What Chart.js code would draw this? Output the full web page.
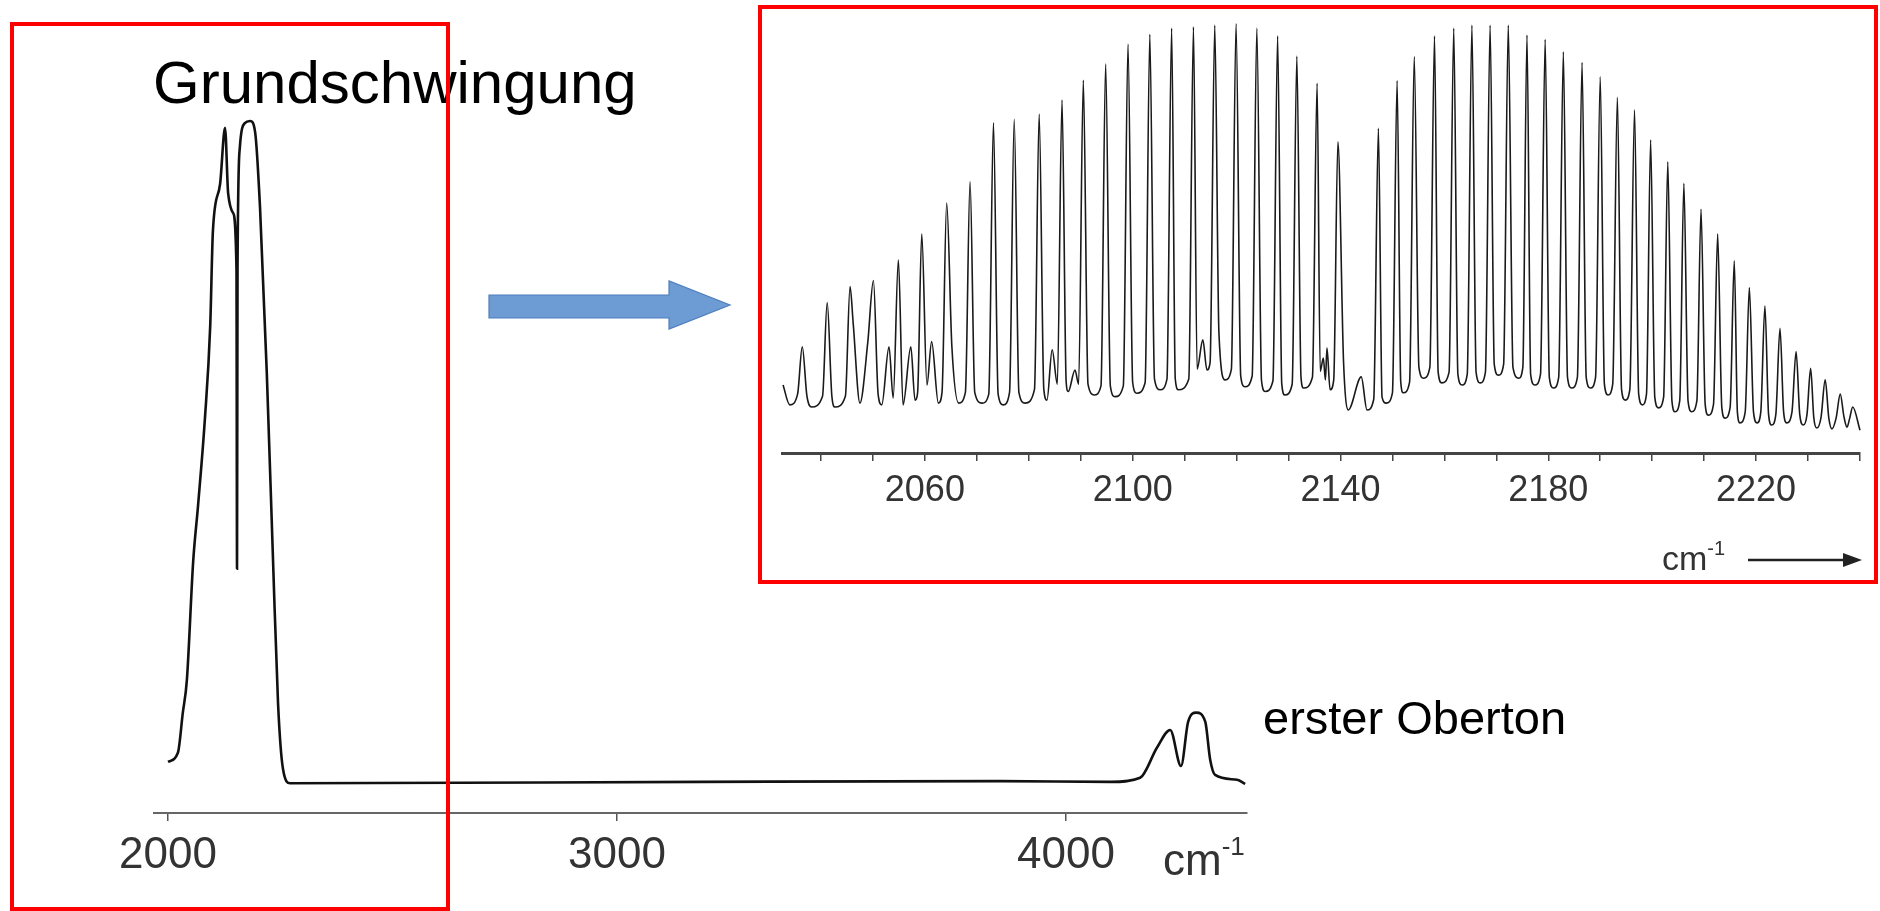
<!DOCTYPE html>
<html>
<head>
<meta charset="utf-8">
<script src="https://cdn.jsdelivr.net/npm/chart.js@4.4.1/dist/chart.umd.min.js"></script>
<style>
html,body{margin:0;padding:0;background:#fff;}
#stage{position:relative;width:1880px;height:911px;overflow:hidden;background:#fff;font-family:"Liberation Sans",Arial,sans-serif;}
canvas{position:absolute;}
#mainCanvas{left:0;top:0;}
#insetCanvas{left:700px;top:0;}
.lbl{position:absolute;white-space:nowrap;line-height:1;}
#overlay{position:absolute;left:0;top:0;}
</style>
</head>
<body>
<div id="stage">
<canvas id="mainCanvas" width="1880" height="911"></canvas>
<canvas id="insetCanvas" width="1180" height="600"></canvas>
<div class="lbl" style="left:153px;top:53px;font-size:60px;color:#000;">Grundschwingung</div>
<div class="lbl" style="left:1263px;top:694px;font-size:47px;color:#000;">erster Oberton</div>
<div class="lbl" style="left:1163px;top:838px;font-size:44px;color:#333;">cm<span style="font-size:26px;position:relative;top:-20px;">-1</span></div>
<div class="lbl" style="left:1662px;top:541px;font-size:34px;color:#333;">cm<span style="font-size:20px;position:relative;top:-15px;">-1</span></div>
<svg id="overlay" width="1880" height="911" viewBox="0 0 1880 911">
  <line x1="1748" y1="560" x2="1850" y2="560" stroke="#222" stroke-width="2.5"/>
  <polygon points="1843,553 1862,560 1843,567" fill="#222"/>
  <polygon points="489,295 669,295 669,281 730,305 669,329 669,318 489,318" fill="#6d9bd3" stroke="#4f7fbd" stroke-width="1.2"/>
  <rect x="12" y="24" width="436" height="885" fill="none" stroke="#ff0000" stroke-width="4"/>
  <rect x="760" y="7" width="1116" height="575" fill="none" stroke="#ff0000" stroke-width="4"/>
</svg>
</div>
<script>
// ---------- main survey spectrum (Grundschwingung + erster Oberton) ----------
const mainWavenumber = [2000,2022,2033,2042,2056,2067,2082,2094,2100,2116,2127,2134,2145,2152.5,2153.7,2154.8,2160,2171,2183,2194,2205,2220,2234,2245,2256,2272,3185,3853,4100,4165,4203,4232,4256,4272,4290,4310,4321,4332,4381,4399];
const mainAbsorbance = [7.4,8.7,14.5,19.2,36.3,44.5,56.8,70.4,84.1,90.9,99.0,89.5,86.7,78.6,35.3,78.6,96.2,99.7,100.0,98.4,87.4,63.6,36.3,15.9,6.4,4.3,4.5,4.6,4.5,5.1,9.5,12.0,6.8,13.2,14.5,13.2,7.7,5.5,4.8,4.2];
const mainTicks = [2000,3000,4000];
const mainTickLabels = ["2000","3000","4000"];

// ---------- inset: rotational fine structure ----------
const insetWavenumber = [
2032.7,2034.0,2035.5,2036.4,2037.3,2038.2,2040.3,2041.2,2042.1,2042.7,2044.7,2045.6,2046.2,2047.5,2049.0,2050.1,2051.0,2051.7,2053.1,2053.9,2054.9,2055.8,2057.3,2058.1,2058.6,2059.4,2060.4,2061.3,2062.6,2063.3,2064.2,2065.2,2066.5,2067.8,2068.7,2069.6,2071.0,2072.3,2073.2,2074.1,2075.1,2076.3,2077.2,2078.1,2079.3,2081.1,2082.0,2082.9,2083.5,2084.5,2085.5,2086.4,2087.2,2087.6,2088.9,2089.6,2090.5,2091.4,2092.6,2093.9,2094.8,2095.7,2096.6,2098.2,2099.1,2100.0,2100.8,2102.4,2103.3,2104.2,2105.3,2106.6,2107.5,2108.2,2108.8,2110.8,2111.7,2112.4,2113.5,2114.3,2114.9,2115.8,2116.6,2117.8,2119.0,2119.9,2120.8,2121.6,2123.0,2123.9,2124.8,2125.5,2127.0,2127.9,2128.7,2129.3,2130.7,2131.6,2132.4,2132.9,2134.6,2135.5,2136.1,2136.7,2137.1,2137.4,2138.0,2138.7,2139.5,2140.6,2141.5,2144.0,2145.1,2146.4,2147.3,2148.0,2148.8,2150.0,2150.9,2151.6,2152.1,2153.3,2154.2,2155.1,2156.0,2157.2,2158.1,2158.8,2159.5,2160.9,2161.8,2162.6,2163.4,2164.4,2165.3,2166.1,2166.9,2167.9,2168.8,2169.6,2170.4,2171.4,2172.3,2173.2,2174.3,2175.1,2175.9,2176.6,2177.4,2178.5,2179.4,2180.2,2181.0,2182.0,2182.9,2183.7,2184.5,2185.6,2186.5,2187.3,2188.1,2189.1,2190.0,2190.8,2191.5,2192.4,2193.3,2194.1,2194.8,2195.7,2196.6,2197.4,2198.1,2198.9,2199.7,2200.5,2201.2,2202.2,2203.0,2203.8,2204.4,2205.3,2206.1,2206.9,2207.6,2208.6,2209.4,2210.2,2210.8,2211.8,2212.6,2213.4,2214.0,2215.0,2215.8,2216.4,2216.9,2217.9,2218.7,2219.5,2220.2,2220.9,2221.7,2222.4,2223.0,2223.8,2224.6,2225.3,2225.9,2226.9,2227.7,2228.4,2229.1,2229.8,2230.5,2231.1,2231.7,2232.5,2233.3,2234.0,2234.6,2235.4,2236.2,2236.9,2237.5,2238.0,2238.6,2240.0];
const insetIntensity = [
15.8,11.2,13.7,24.7,13.2,10.7,13.2,35.0,13.2,10.7,13.2,38.7,30.2,11.6,25.6,40.1,13.7,11.2,24.7,12.8,44.9,11.2,24.7,12.3,14.0,50.9,15.8,25.9,11.6,14.1,58.1,24.7,11.6,14.1,63.1,14.1,11.6,13.7,76.8,13.7,11.2,14.1,77.6,14.1,11.6,14.8,78.8,14.8,12.3,24.0,16.0,82.1,16.5,14.3,19.3,16.0,86.7,16.0,13.5,15.6,90.5,15.6,13.1,15.6,95.1,16.4,13.9,16.4,97.4,17.2,14.7,17.2,98.8,17.2,14.7,17.2,99.1,19.5,26.3,19.3,21.0,99.5,28.0,17.0,19.5,99.9,17.9,15.4,17.9,98.8,16.8,14.3,16.8,97.0,16.0,13.5,16.0,92.3,17.6,15.1,17.6,86.0,19.0,22.1,17.0,24.4,14.7,17.0,72.4,20.9,10.0,17.7,10.0,12.5,75.5,13.0,11.6,14.0,86.6,16.5,14.0,16.5,92.2,19.9,17.4,19.9,97.0,18.8,16.3,18.8,98.8,18.3,15.8,18.3,99.5,18.8,16.3,18.8,99.5,20.6,18.1,20.6,99.5,19.9,17.4,19.9,97.2,18.3,15.8,18.3,96.2,17.6,15.1,17.6,93.3,17.6,15.1,17.6,90.8,17.6,15.1,17.6,87.5,16.0,13.5,16.0,82.7,14.8,12.3,14.8,79.8,13.7,11.2,13.7,72.8,13.0,10.5,13.0,67.7,12.1,9.6,12.1,62.7,12.1,9.6,12.1,56.7,11.3,8.8,11.3,50.9,10.6,8.1,10.6,44.7,9.5,7.0,9.5,38.5,9.5,7.0,9.5,34.2,9.0,6.5,9.0,29.0,9.5,7.0,9.5,23.6,9.0,6.5,9.0,19.7,8.3,5.8,8.3,17.0,8.1,5.6,8.1,13.7,8.5,6.0,8.0,10.7,5.3];
const insetTicks = [2040,2050,2060,2070,2080,2090,2100,2110,2120,2130,2140,2150,2160,2170,2180,2190,2200,2210,2220,2230,2240];
const insetTickLabels = [2060,2100,2140,2180,2220];

const FONT = "'Liberation Sans', Arial, sans-serif";

function toPoints(xs, ys){ return xs.map((x,i)=>({x:x, y:ys[i]})); }

new Chart(document.getElementById('mainCanvas'), {
  type: 'line',
  data: { datasets: [{
    data: toPoints(mainWavenumber, mainAbsorbance),
    borderColor: '#111', borderWidth: 2.6, pointRadius: 0,
    cubicInterpolationMode: 'monotone', fill: false, clip: false
  }]},
  options: {
    responsive: false, animation: false, devicePixelRatio: 1,
    layout: { padding: { left: 154, right: 633, top: 121, bottom: 20 } },
    plugins: { legend: {display:false}, tooltip: {enabled:false} },
    scales: {
      x: {
        type: 'linear', min: 1968.8, max: 4403,
        afterBuildTicks: s => { s.ticks = mainTicks.map(v => ({value: v})); },
        ticks: {
          autoSkip: false, maxRotation: 0, minRotation: 0, padding: 13, color: '#333',
          font: { family: FONT, size: 44, lineHeight: 1 },
          callback: v => { const i = mainTicks.indexOf(v); return i >= 0 ? mainTickLabels[i] : ''; }
        },
        grid: { display: true, drawOnChartArea: false, drawTicks: true, tickLength: 8, color: '#555', lineWidth: 1.5 },
        border: { display: true, color: '#666', width: 2 }
      },
      y: { type: 'linear', min: 0, max: 100, display: false }
    }
  }
});

new Chart(document.getElementById('insetCanvas'), {
  type: 'line',
  data: { datasets: [{
    data: toPoints(insetWavenumber, insetIntensity),
    borderColor: '#1a1a1a', borderWidth: 1.6, pointRadius: 0,
    cubicInterpolationMode: 'monotone', fill: false, clip: false
  }]},
  options: {
    responsive: false, animation: false, devicePixelRatio: 1,
    layout: { padding: { left: 82, right: 20, top: 23, bottom: 79 } },
    plugins: { legend: {display:false}, tooltip: {enabled:false} },
    scales: {
      x: {
        type: 'linear', min: 2032.5, max: 2240,
        afterBuildTicks: s => { s.ticks = insetTicks.map(v => ({value: v})); },
        ticks: {
          autoSkip: false, maxRotation: 0, minRotation: 0, padding: 12, color: '#333',
          font: { family: FONT, size: 36, lineHeight: 1 },
          callback: v => insetTickLabels.includes(v) ? String(v) : ''
        },
        grid: { display: true, drawOnChartArea: false, drawTicks: true, tickLength: 8, color: '#444', lineWidth: 1.5 },
        border: { display: true, color: '#444', width: 3 }
      },
      y: { type: 'linear', min: 0, max: 100, display: false }
    }
  }
});
</script>
</body>
</html>
